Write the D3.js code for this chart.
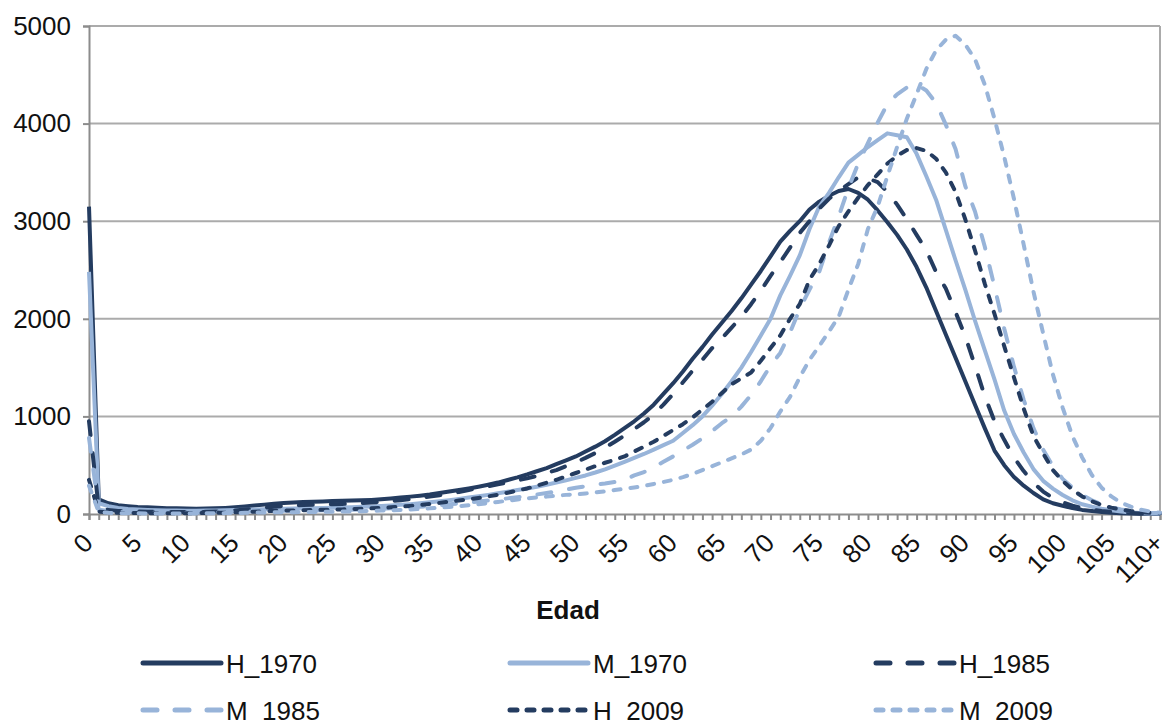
<!DOCTYPE html>
<html>
<head>
<meta charset="utf-8">
<script src="https://cdn.jsdelivr.net/npm/d3@7"></script>
<style>
  html, body { margin: 0; padding: 0; background: #fff; }
  svg { display: block; font-family: "Liberation Sans", Arial, sans-serif; }
</style>
</head>
<body>
<svg id="chart" width="1164" height="722"></svg>
<script>
// ---- Data ----
const ages = d3.range(0, 111);
const tickLabels = ["0","5","10","15","20","25","30","35","40","45","50","55","60","65","70","75","80","85","90","95","100","105","110+"];
const yTicks = [0, 1000, 2000, 3000, 4000, 5000];
const seriesNames = ["H_1970", "M_1970", "H_1985", "M_1985", "H_2009", "M_2009"];

const H_1970 = [3150,150,110,90,80,72,68,64,60,58,56,55,56,58,62,68,76,86,96,104,
  112,118,122,125,128,132,135,138,140,144,150,158,168,178,188,200,215,230,245,262,
  280,300,322,348,375,405,438,470,510,550,590,640,690,745,810,880,950,1030,1120,1230,
  1340,1460,1590,1710,1840,1960,2080,2210,2350,2490,2640,2790,2900,3000,3120,3200,3260,3310,3330,3290,
  3220,3110,2990,2860,2710,2530,2320,2080,1840,1600,1360,1120,880,650,500,380,290,215,150,110,
  85,60,42,30,20,13,8,5,3,2,1];

const M_1970 = [2480,110,80,62,52,46,42,39,37,35,34,34,35,36,38,40,43,46,49,52,
  54,56,58,60,62,64,67,70,74,78,83,88,94,101,110,120,130,142,155,168,
  182,196,212,228,245,262,280,300,322,345,370,395,425,458,495,535,575,615,660,705,
  750,830,910,1000,1110,1230,1360,1500,1660,1830,2000,2240,2440,2650,2920,3150,3290,3450,3600,3680,
  3760,3830,3900,3880,3860,3690,3460,3220,2910,2600,2300,1980,1680,1380,1060,820,630,460,340,260,
  195,140,100,75,55,38,25,16,10,6,4];

const H_1985 = [950,60,40,32,28,25,23,22,21,20,20,21,22,25,30,36,45,55,65,75,
  82,88,92,95,98,100,103,107,112,118,124,132,142,152,164,178,192,208,226,246,
  266,285,305,325,345,365,390,420,450,490,530,575,625,680,740,805,870,940,1020,1120,
  1230,1350,1470,1580,1700,1800,1910,2020,2150,2290,2440,2580,2730,2880,3000,3130,3230,3310,3380,3450,
  3440,3400,3300,3170,3020,2860,2700,2480,2310,2070,1820,1520,1210,950,760,580,440,320,230,165,
  120,85,60,45,32,22,15,10,6,4,2];

const M_1985 = [780,45,30,24,20,18,17,16,15,15,15,15,16,17,19,21,24,27,30,32,
  34,35,36,37,38,40,42,44,47,50,54,58,62,68,74,82,90,99,108,118,
  128,138,148,160,172,185,200,215,232,250,268,285,300,312,328,350,395,430,480,535,
  590,650,710,775,850,930,1000,1100,1220,1360,1520,1650,1860,2100,2300,2480,2780,3050,3340,3590,
  3800,4010,4200,4300,4370,4400,4340,4210,3990,3740,3360,3100,2740,2330,1900,1510,1170,880,660,490,
  360,270,195,140,98,68,46,32,20,12,8];

const H_2009 = [350,25,16,12,10,9,8,8,8,8,8,9,10,12,14,17,20,24,28,32,
  35,37,39,41,43,45,47,50,54,58,62,68,75,83,92,102,114,126,138,150,
  164,180,198,218,240,262,290,320,350,385,420,455,490,525,555,590,640,690,740,800,
  860,920,990,1070,1150,1240,1330,1390,1450,1570,1700,1830,2000,2150,2400,2560,2750,2950,3100,3240,
  3370,3480,3590,3670,3730,3750,3720,3640,3500,3300,3020,2700,2360,2050,1720,1400,1080,800,620,450,
  340,250,180,130,92,65,45,30,20,12,8];

const M_2009 = [290,20,12,9,8,7,6,6,6,6,6,6,7,8,9,10,12,14,16,17,
  18,19,20,21,22,23,25,27,29,32,35,38,42,47,52,58,64,72,80,90,
  100,112,124,136,148,160,170,178,188,196,202,210,220,232,245,258,272,288,308,328,
  350,378,410,450,490,530,570,610,660,750,880,1050,1200,1400,1580,1720,1870,2020,2300,2560,
  2920,3150,3460,3760,4050,4300,4560,4750,4860,4900,4810,4660,4400,4050,3660,3230,2760,2280,1850,1430,
  1090,800,580,400,270,180,115,75,45,25,12];

const seriesValues = [H_1970, M_1970, H_1985, M_1985, H_2009, M_2009];

// ---- Styles ----
const DARK = "#243C60";
const LIGHT = "#98B4D9";
const styles = [
  { color: DARK,  dash: null },
  { color: LIGHT, dash: null },
  { color: DARK,  dash: "14,18" },
  { color: LIGHT, dash: "14,18" },
  { color: DARK,  dash: "7,10" },
  { color: LIGHT, dash: "7,10" }
];

const svg = d3.select("#chart");
const plotLeft = 89, plotRight = 1160, plotTop = 26, plotBottom = 514;

const x = d3.scaleLinear().domain([0, 110]).range([plotLeft, plotRight]);
const y = d3.scaleLinear().domain([0, 5000]).range([plotBottom, plotTop]);

// gridlines
svg.append("g").selectAll("line").data(yTicks.filter(d => d > 0)).join("line")
  .attr("x1", plotLeft).attr("x2", plotRight)
  .attr("y1", d => y(d)).attr("y2", d => y(d))
  .attr("stroke", "#ABABAB").attr("stroke-width", 2);

// right border
svg.append("line").attr("x1", plotRight).attr("x2", plotRight).attr("y1", plotTop).attr("y2", plotBottom)
  .attr("stroke", "#ABABAB").attr("stroke-width", 2);

// y axis
const yAxis = d3.axisLeft(y).tickValues(yTicks).tickSize(6).tickPadding(12).tickFormat(d3.format("d"));
const gy = svg.append("g").attr("transform", `translate(${plotLeft},0)`).call(yAxis);
gy.select(".domain").attr("stroke", "#8C8C8C").attr("stroke-width", 2);
gy.selectAll(".tick line").attr("stroke", "#8C8C8C").attr("stroke-width", 2);
gy.selectAll(".tick text").attr("font-size", 26).attr("fill", "#111").attr("font-family", "'Liberation Sans', Arial, sans-serif");

// x axis
const xAxis = d3.axisBottom(x).tickValues(ages).tickSize(6).tickFormat("");
const gx = svg.append("g").attr("transform", `translate(0,${plotBottom})`).call(xAxis);
gx.select(".domain").attr("stroke", "#8C8C8C").attr("stroke-width", 2);
gx.selectAll(".tick line").attr("stroke", "#8C8C8C").attr("stroke-width", 2);

// x tick labels (rotated)
svg.append("g").selectAll("text").data(tickLabels).join("text")
  .attr("text-anchor", "end")
  .attr("font-size", 26)
  .attr("fill", "#111")
  .attr("dy", "0.35em")
  .attr("transform", (d, i) => `translate(${x(Math.min(i * 5, 110)) - 1},${plotBottom + 24}) rotate(-45)`)
  .text(d => d);

// axis title
svg.append("text").attr("x", 568).attr("y", 619).attr("text-anchor", "middle")
  .attr("font-size", 26).attr("font-weight", "bold").attr("fill", "#111").text("Edad");

// lines
const line = d3.line().x((d, i) => x(ages[i])).y(d => y(d)).curve(d3.curveLinear);
seriesValues.forEach((vals, k) => {
  const p = svg.append("path").datum(vals)
    .attr("d", line)
    .attr("fill", "none")
    .attr("stroke", styles[k].color)
    .attr("stroke-width", 4)
    .attr("stroke-linejoin", "round")
    .attr("stroke-linecap", styles[k].dash ? "round" : "butt");
  if (styles[k].dash) p.attr("stroke-dasharray", styles[k].dash);
});

// legend
const legX = [141, 508, 874];
const legY = [663, 710];
seriesNames.forEach((name, k) => {
  const col = k % 3, row = Math.floor(k / 3);
  const g = svg.append("g").attr("transform", `translate(${legX[col]},${legY[row]})`);
  const l = g.append("line").attr("x1", 2).attr("x2", 80).attr("y1", 0).attr("y2", 0)
    .attr("stroke", styles[k].color).attr("stroke-width", 5)
    .attr("stroke-linecap", "round");
  if (styles[k].dash) l.attr("stroke-dasharray", styles[k].dash);
  g.append("text").attr("x", 85).attr("y", 9.5).attr("font-size", 26).attr("fill", "#111").text(name);
});
</script>
</body>
</html>
